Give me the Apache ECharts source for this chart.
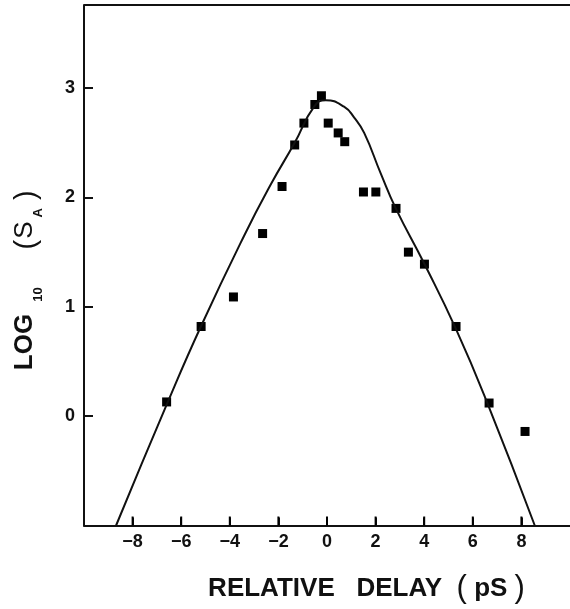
<!DOCTYPE html>
<html>
<head>
<meta charset="utf-8">
<script src="https://cdn.jsdelivr.net/npm/echarts@6/dist/echarts.min.js"></script>
<style>
  html, body { margin: 0; padding: 0; background: #fff; }
  #chart { width: 570px; height: 609px; }
</style>
</head>
<body>
<div id="chart"></div>
<script>
var chart = echarts.init(document.getElementById('chart'));

// measured points (relative delay in ps, log10 S_A)
var pointX = [-6.6, -5.18, -3.85, -2.65, -1.85, -1.33, -0.95, -0.5, -0.23, 0.05,
              0.46, 0.73, 1.5, 2.01, 2.84, 3.35, 4.01, 5.31, 6.67, 8.15];
var pointY = [0.13, 0.82, 1.09, 1.67, 2.10, 2.48, 2.68, 2.85, 2.93, 2.68,
              2.59, 2.51, 2.05, 2.05, 1.90, 1.50, 1.39, 0.82, 0.12, -0.14];

// fitted curve
var curveX = [-8.68, -6.55, -5.19, -3.41, -2.31, -1.33, -0.53, -0.05,
              0.7, 1.12, 1.53, 2.21, 2.83, 3.99, 5.3, 6.6, 8.55];
var curveY = [-1.0, 0.13, 0.82, 1.65, 2.12, 2.5, 2.83, 2.89,
              2.83, 2.73, 2.59, 2.22, 1.9, 1.4, 0.8, 0.12, -1.0];

var xTicks = [-8, -6, -4, -2, 0, 2, 4, 6, 8];
var yTicks = [0, 1, 2, 3];
var yMin = -1;
var yMax = 3.76;

var points = pointX.map(function (x, i) { return [x, pointY[i]]; });
var curve = curveX.map(function (x, i) { return [x, curveY[i]]; });

var labelFont = {
    color: '#111',
    fontFamily: 'Liberation Sans',
    fontWeight: 'bold',
    fontSize: 18
};

var option = {
    animation: false,
    grid: {
        left: 84,
        right: 0,
        top: 5,
        bottom: 83
    },
    xAxis: {
        type: 'value',
        min: -10,
        max: 10,
        interval: 2,
        splitLine: { show: false },
        axisLine: { show: true, onZero: false, lineStyle: { color: '#111', width: 2 } },
        axisTick: { show: true, inside: true, length: 8, lineStyle: { color: '#111', width: 2 } },
        axisLabel: Object.assign({
            margin: 8,
            showMinLabel: false,
            showMaxLabel: false,
            formatter: function (v) {
                if (xTicks.indexOf(v) < 0) return '';
                return v < 0 ? '\u2212' + Math.abs(v) : String(v);
            }
        }, labelFont),
        name: '{t|RELATIVE   DELAY  }{p|(}{t| pS }{p|)}',
        nameLocation: 'middle',
        nameGap: 46,
        nameTextStyle: {
            padding: [0, 0, 0, 79],
            rich: {
                t: { fontFamily: 'Liberation Sans', fontWeight: 'bold', fontSize: 26, lineHeight: 34, color: '#111' },
                p: { fontFamily: 'Liberation Sans', fontWeight: 'normal', fontSize: 31, lineHeight: 34, color: '#111' }
            }
        }
    },
    yAxis: {
        type: 'value',
        min: yMin,
        max: yMax,
        interval: 1,
        splitLine: { show: false },
        axisLine: { show: true, onZero: false, lineStyle: { color: '#111', width: 2 } },
        axisTick: { show: true, inside: true, length: 9, lineStyle: { color: '#111', width: 2 } },
        axisLabel: Object.assign({
            margin: 9,
            showMinLabel: false,
            showMaxLabel: false,
            formatter: function (v) {
                return yTicks.indexOf(v) < 0 ? '' : String(v);
            }
        }, labelFont),
        name: '{a|LOG}{s|10}{p|(}{b|S}{u|A}{p|)}',
        nameLocation: 'middle',
        nameGap: 46,
        nameTextStyle: {
            padding: [0, 30, 0, 0],
            rich: {
                a: { fontFamily: 'Liberation Sans', fontWeight: 'bold', fontSize: 26, lineHeight: 26, verticalAlign: 'top', color: '#111' },
                b: { fontFamily: 'Liberation Sans', fontWeight: 'normal', fontSize: 26, lineHeight: 26, verticalAlign: 'top', color: '#111', padding: [0, 4, 0, 1] },
                p: { fontFamily: 'Liberation Sans', fontWeight: 'normal', fontSize: 29, lineHeight: 26, verticalAlign: 'top', color: '#111' },
                s: { fontFamily: 'Liberation Sans', fontWeight: 'bold', fontSize: 13, lineHeight: 14, verticalAlign: 'top', color: '#111', padding: [20, 38, 0, 12] },
                u: { fontFamily: 'Liberation Sans', fontWeight: 'bold', fontSize: 13, lineHeight: 14, verticalAlign: 'top', color: '#111', padding: [20, 8, 0, 0] }
            }
        }
    },
    series: [
        {
            name: 'fit',
            type: 'line',
            data: curve,
            smooth: 0.5,
            symbol: 'none',
            clip: true,
            lineStyle: { color: '#111', width: 2 },
            // top frame line of the plot
            markLine: {
                silent: true,
                symbol: 'none',
                label: { show: false },
                lineStyle: { color: '#111', width: 2, type: 'solid' },
                data: [{ yAxis: yMax }]
            }
        },
        {
            name: 'data',
            type: 'scatter',
            data: points,
            symbol: 'rect',
            symbolSize: 9,
            itemStyle: { color: '#000', opacity: 1 }
        },
        {
            // x axis ticks, pointing up into the plot
            name: 'xticks',
            type: 'custom',
            silent: true,
            clip: false,
            z: 5,
            data: xTicks.map(function (x) { return [x, yMin]; }),
            renderItem: function (params, api) {
                var p = api.coord([api.value(0), api.value(1)]);
                return {
                    type: 'line',
                    shape: { x1: p[0], y1: p[1], x2: p[0], y2: p[1] - 9 },
                    style: { stroke: '#000', lineWidth: 2 }
                };
            }
        }
    ]
};
chart.setOption(option);
</script>
</body>
</html>
